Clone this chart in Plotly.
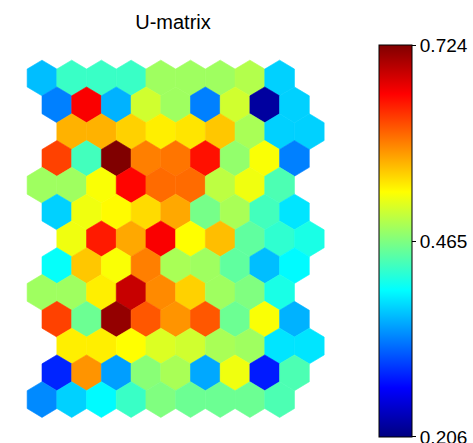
import plotly.graph_objects as go
from plotly.colors import sample_colorscale

# U-matrix values, row by row (top row first), 9 cells per row
row00 = [0.367, 0.429, 0.429, 0.429, 0.481, 0.481, 0.481, 0.491, 0.377]
row01 = [0.336, 0.662, 0.361, 0.506, 0.481, 0.336, 0.506, 0.222, 0.377]
row02 = [0.569, 0.569, 0.553, 0.538, 0.543, 0.558, 0.486, 0.377, 0.377]
row03 = [0.626, 0.434, 0.724, 0.595, 0.600, 0.651, 0.475, 0.527, 0.336]
row04 = [0.481, 0.481, 0.527, 0.657, 0.605, 0.605, 0.496, 0.522, 0.439]
row05 = [0.377, 0.522, 0.532, 0.548, 0.574, 0.460, 0.486, 0.434, 0.387]
row06 = [0.522, 0.646, 0.574, 0.662, 0.530, 0.563, 0.449, 0.424, 0.413]
row07 = [0.403, 0.558, 0.527, 0.595, 0.486, 0.481, 0.449, 0.367, 0.398]
row08 = [0.481, 0.481, 0.538, 0.688, 0.589, 0.553, 0.481, 0.465, 0.413]
row09 = [0.626, 0.455, 0.714, 0.615, 0.584, 0.615, 0.455, 0.527, 0.361]
row10 = [0.538, 0.538, 0.530, 0.512, 0.506, 0.486, 0.481, 0.387, 0.387]
row11 = [0.289, 0.584, 0.351, 0.470, 0.486, 0.356, 0.522, 0.284, 0.439]
row12 = [0.341, 0.377, 0.398, 0.429, 0.465, 0.455, 0.455, 0.455, 0.439]
rows = [row00, row01, row02, row03, row04, row05, row06, row07,
        row08, row09, row10, row11, row12]

vmin, vmax = 0.206, 0.724
tick_vals = [0.2061, 0.465, 0.7239]
tick_text = ["0.206", "0.465", "0.724"]
title_text = "U-matrix"

# layout constants (geometry of the hexagonal grid)
row_shift = [0.0, 0.5, 1.0, 0.5]
half_w = 0.5
half_h = 2.0 / 3.0

jet = [[0.0, "rgb(0,0,128)"], [0.125, "rgb(0,0,255)"], [0.375, "rgb(0,255,255)"],
       [0.625, "rgb(255,255,0)"], [0.875, "rgb(255,0,0)"], [1.0, "rgb(128,0,0)"]]

fig = go.Figure()
for r, vals in enumerate(rows):
    for c, v in enumerate(vals):
        cx = c + row_shift[r % 4]
        cy = r
        xs = [cx, cx + half_w, cx + half_w, cx, cx - half_w, cx - half_w, cx]
        ys = [cy - half_h, cy - half_h / 2, cy + half_h / 2, cy + half_h,
              cy + half_h / 2, cy - half_h / 2, cy - half_h]
        t = (v - vmin) / (vmax - vmin)
        t = min(max(t, 0.0), 1.0)
        col = sample_colorscale(jet, [t])[0]
        fig.add_trace(go.Scatter(
            x=xs, y=ys, mode="lines", fill="toself", fillcolor=col,
            line=dict(color=col, width=0.6), hoverinfo="text",
            text=f"{v:.3f}", showlegend=False))

# plot-area geometry in pixels
L, R, T, B = 20, 340, 55, 425
W, H = 473, 443

# colorbar carrier
fig.add_trace(go.Scatter(
    x=[0, 0], y=[0, 0], mode="markers", showlegend=False, hoverinfo="skip",
    marker=dict(size=0.1, color=[vmin, vmax], cmin=vmin, cmax=vmax,
                colorscale=jet, showscale=True,
                colorbar=dict(
                    x=(379 - L) / (R - L), xanchor="left", xpad=0,
                    y=(B - 45) / (B - T), yanchor="top", ypad=0,
                    len=437 - 45, lenmode="pixels",
                    thickness=33, thicknessmode="pixels",
                    outlinewidth=1, outlinecolor="black",
                    tickvals=tick_vals, ticktext=tick_text,
                    ticks="outside", ticklen=4, tickcolor="black",
                    ticklabeloverflow="allow",
                    tickfont=dict(size=19, color="black",
                                  family="Liberation Sans, Arial, sans-serif"),
                ))))

x0, x1 = (L - 42) / 29.7, (R - 42) / 29.7
y0, y1 = (T - 78) / 26.8, (B - 78) / 26.8

fig.update_layout(
    width=W, height=H,
    margin=dict(l=L, r=W - R, t=T, b=H - B, autoexpand=False),
    paper_bgcolor="white", plot_bgcolor="white",
    font=dict(family="Liberation Sans, Arial, sans-serif", color="black"),
    title=dict(text=title_text, x=173 / W, xanchor="center", xref="container",
               y=1 - 22 / H, yanchor="middle", yref="container",
               font=dict(size=20, color="black")),
    xaxis=dict(range=[x0, x1], visible=False, fixedrange=True),
    yaxis=dict(range=[y1, y0], visible=False, fixedrange=True),
    showlegend=False,
)

fig.write_html("out.html",
               config={"displayModeBar": False},
               post_script="document.body.style.margin='0';"
                           "document.body.style.overflow='hidden';")
